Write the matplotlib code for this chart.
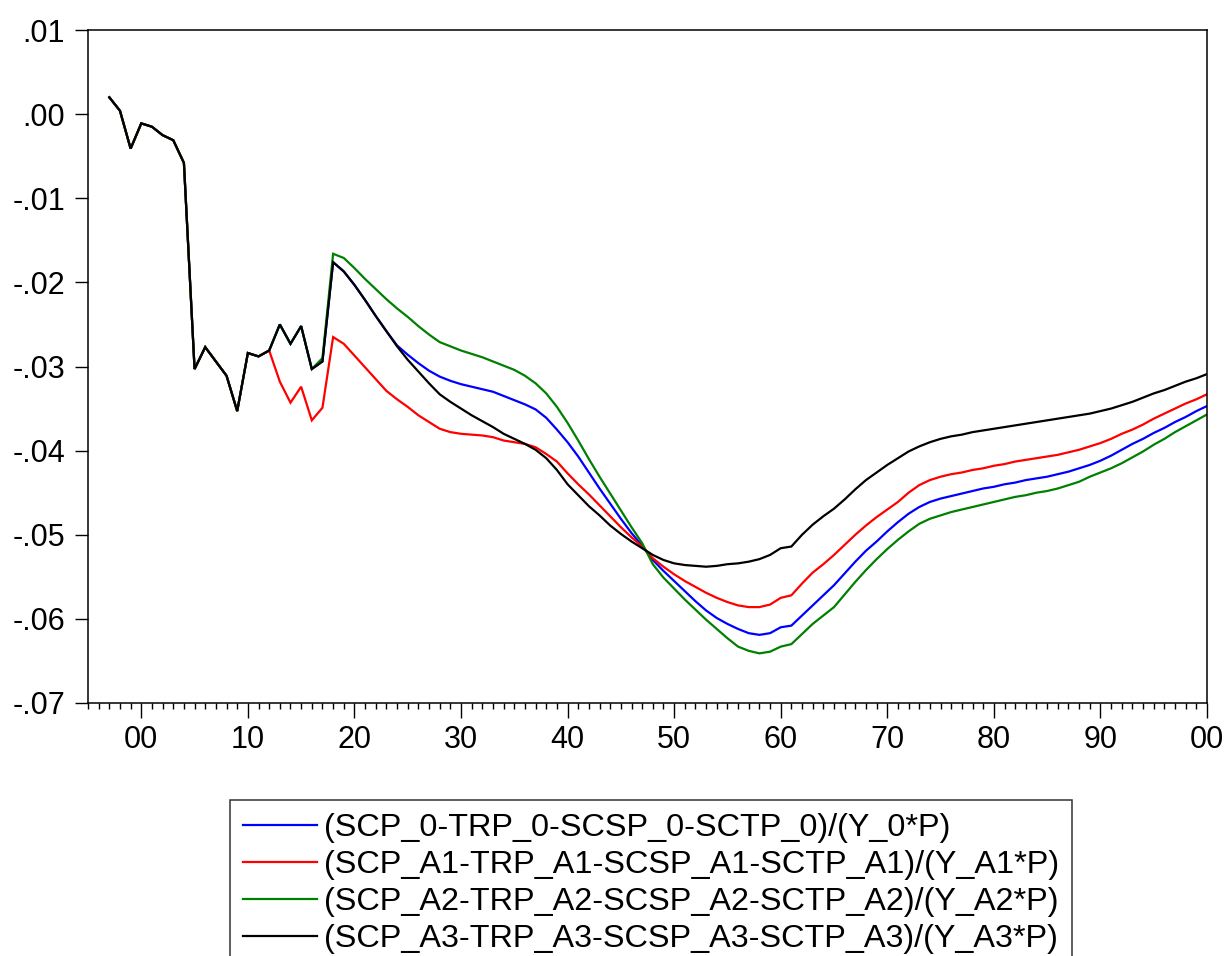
import numpy as np
import matplotlib
matplotlib.use('Agg')
import matplotlib.pyplot as plt
from matplotlib.ticker import FixedLocator, MultipleLocator

plt.rcParams['font.family'] = ['Liberation Sans', 'DejaVu Sans']

years = np.arange(1997, 2101)

# common history 1997-2012 (all scenarios identical)
hist = [0.0020, 0.0004, -0.0041, -0.0011, -0.0015, -0.0025, -0.0031, -0.0058,
        -0.0303, -0.0277, -0.0294, -0.0311, -0.0353, -0.0284, -0.0288, -0.0281]

# 2013-2100 per scenario
base_0 = [-0.0250, -0.0273, -0.0252, -0.0303, -0.0294, -0.0176, -0.0187,
          -0.0203, -0.0221, -0.0240, -0.0258, -0.0275, -0.0286, -0.0296, -0.0305, -0.0312, -0.0317,
          -0.0321, -0.0324, -0.0327, -0.0330, -0.0335, -0.0340, -0.0345, -0.0351, -0.0361, -0.0375,
          -0.0390, -0.0407, -0.0426, -0.0445, -0.0463, -0.0481, -0.0498, -0.0513, -0.0530, -0.0543,
          -0.0555, -0.0567, -0.0579, -0.0590, -0.0599, -0.0606, -0.0612, -0.0617, -0.0619, -0.0617,
          -0.0610, -0.0608, -0.0596, -0.0584, -0.0572, -0.0560, -0.0546, -0.0532, -0.0519, -0.0508,
          -0.0496, -0.0485, -0.0475, -0.0467, -0.0461, -0.0457, -0.0454, -0.0451, -0.0448, -0.0445,
          -0.0443, -0.0440, -0.0438, -0.0435, -0.0433, -0.0431, -0.0428, -0.0425, -0.0421, -0.0417,
          -0.0412, -0.0406, -0.0399, -0.0392, -0.0386, -0.0379, -0.0373, -0.0366, -0.0360, -0.0353,
          -0.0347]

alt_1 = [-0.0318, -0.0343, -0.0324, -0.0364, -0.0349, -0.0265, -0.0273,
         -0.0287, -0.0301, -0.0315, -0.0329, -0.0339, -0.0348, -0.0358, -0.0366, -0.0374, -0.0378,
         -0.0380, -0.0381, -0.0382, -0.0384, -0.0388, -0.0390, -0.0392, -0.0396, -0.0404, -0.0413,
         -0.0427, -0.0440, -0.0452, -0.0465, -0.0478, -0.0491, -0.0503, -0.0514, -0.0528, -0.0538,
         -0.0547, -0.0555, -0.0562, -0.0569, -0.0575, -0.0580, -0.0584, -0.0586, -0.0586, -0.0583,
         -0.0575, -0.0572, -0.0558, -0.0545, -0.0535, -0.0524, -0.0512, -0.0500, -0.0489, -0.0479,
         -0.0470, -0.0461, -0.0450, -0.0441, -0.0435, -0.0431, -0.0428, -0.0426, -0.0423, -0.0421,
         -0.0418, -0.0416, -0.0413, -0.0411, -0.0409, -0.0407, -0.0405, -0.0402, -0.0399, -0.0395,
         -0.0391, -0.0386, -0.0380, -0.0375, -0.0369, -0.0362, -0.0356, -0.0350, -0.0344, -0.0339,
         -0.0333]

alt_2 = [-0.0250, -0.0273, -0.0252, -0.0303, -0.0290, -0.0166, -0.0171,
         -0.0183, -0.0196, -0.0208, -0.0220, -0.0231, -0.0241, -0.0252, -0.0262, -0.0271, -0.0276,
         -0.0281, -0.0285, -0.0289, -0.0294, -0.0299, -0.0304, -0.0311, -0.0320, -0.0332, -0.0348,
         -0.0367, -0.0388, -0.0410, -0.0431, -0.0451, -0.0471, -0.0491, -0.0510, -0.0535, -0.0551,
         -0.0564, -0.0577, -0.0589, -0.0601, -0.0612, -0.0623, -0.0633, -0.0638, -0.0641, -0.0639,
         -0.0633, -0.0630, -0.0618, -0.0606, -0.0596, -0.0586, -0.0571, -0.0556, -0.0542, -0.0529,
         -0.0517, -0.0506, -0.0496, -0.0487, -0.0481, -0.0477, -0.0473, -0.0470, -0.0467, -0.0464,
         -0.0461, -0.0458, -0.0455, -0.0453, -0.0450, -0.0448, -0.0445, -0.0441, -0.0437, -0.0431,
         -0.0426, -0.0421, -0.0415, -0.0408, -0.0401, -0.0393, -0.0386, -0.0378, -0.0371, -0.0364,
         -0.0357]

alt_3 = [-0.0250, -0.0273, -0.0252, -0.0303, -0.0294, -0.0176, -0.0187,
         -0.0203, -0.0221, -0.0240, -0.0258, -0.0276, -0.0292, -0.0306, -0.0320, -0.0333, -0.0342,
         -0.0350, -0.0358, -0.0365, -0.0372, -0.0380, -0.0386, -0.0392, -0.0399, -0.0409, -0.0423,
         -0.0440, -0.0453, -0.0466, -0.0477, -0.0489, -0.0499, -0.0508, -0.0516, -0.0524, -0.0530,
         -0.0534, -0.0536, -0.0537, -0.0538, -0.0537, -0.0535, -0.0534, -0.0532, -0.0529, -0.0524,
         -0.0516, -0.0514, -0.0500, -0.0488, -0.0478, -0.0469, -0.0458, -0.0446, -0.0435, -0.0426,
         -0.0417, -0.0409, -0.0401, -0.0395, -0.0390, -0.0386, -0.0383, -0.0381, -0.0378, -0.0376,
         -0.0374, -0.0372, -0.0370, -0.0368, -0.0366, -0.0364, -0.0362, -0.0360, -0.0358, -0.0356,
         -0.0353, -0.0350, -0.0346, -0.0342, -0.0337, -0.0332, -0.0328, -0.0323, -0.0318, -0.0314,
         -0.0309]

labels = ['(SCP_0-TRP_0-SCSP_0-SCTP_0)/(Y_0*P)',
          '(SCP_A1-TRP_A1-SCSP_A1-SCTP_A1)/(Y_A1*P)',
          '(SCP_A2-TRP_A2-SCSP_A2-SCTP_A2)/(Y_A2*P)',
          '(SCP_A3-TRP_A3-SCSP_A3-SCTP_A3)/(Y_A3*P)']
colors = ['#0000ff', '#ff0000', '#008000', '#000000']

ytick_vals = [0.01, 0.00, -0.01, -0.02, -0.03, -0.04, -0.05, -0.06, -0.07]
ytick_labels = ['.01', '.00', '-.01', '-.02', '-.03', '-.04', '-.05', '-.06', '-.07']
xtick_vals = list(range(2000, 2101, 10))
xtick_labels = ['00', '10', '20', '30', '40', '50', '60', '70', '80', '90', '00']

W, H = 1224, 956
fig = plt.figure(figsize=(W / 100, H / 100), dpi=100)
ax = fig.add_axes([88 / W, 1 - 703 / H, (1207 - 88) / W, (703 - 30) / H])

lines = []
for series, col, lab in zip([base_0, alt_1, alt_2, alt_3], colors, labels):
    y = np.array(hist + series)
    ln, = ax.plot(years, y, color=col, lw=1.6, label=lab, solid_joinstyle='miter')
    lines.append(ln)

ax.set_xlim(1995, 2100)
ax.set_ylim(-0.07, 0.01)

ax.xaxis.set_major_locator(FixedLocator(xtick_vals))
ax.set_xticklabels(xtick_labels)
ax.xaxis.set_minor_locator(MultipleLocator(1))
ax.set_yticks(ytick_vals)
ax.set_yticklabels(ytick_labels)

ax.tick_params(axis='x', which='major', direction='out', length=11, width=1, labelsize=22, pad=5)
ax.tick_params(axis='x', which='minor', direction='out', length=4.5, width=1)
ax.tick_params(axis='y', which='major', direction='out', length=9.5, width=1, labelsize=22, pad=7)
for sp in ax.spines.values():
    sp.set_linewidth(1.1)

# legend sits under the plot, its bottom runs off the figure like the original
leg = fig.legend(handles=lines, loc='upper left', bbox_to_anchor=(230 / W, 1 - 800 / H),
                 fontsize=23.3, frameon=True, fancybox=False, edgecolor='black',
                 handlelength=2.3, handletextpad=0.2, labelspacing=0.22,
                 borderpad=0.4, borderaxespad=0)
leg.get_frame().set_linewidth(1.1)

fig.savefig('out.png', dpi=100)
